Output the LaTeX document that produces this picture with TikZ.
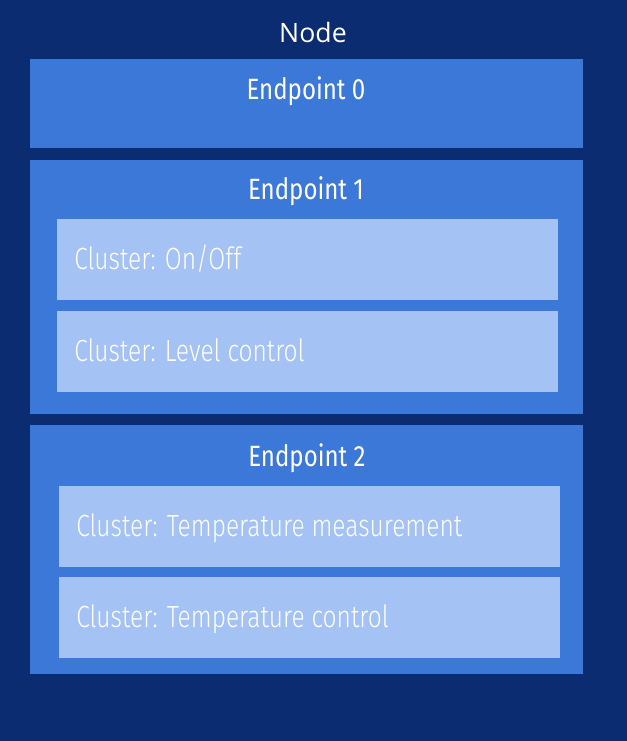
\documentclass[tikz,border=0pt]{standalone}
\usepackage{fontspec}
\setmainfont{Open Sans}
\newfontfamily\condfont{Fira Sans}[FakeStretch=0.82]
\newfontfamily\condlight{Fira Sans Light}[FakeStretch=0.8]
\definecolor{nodeblue}{HTML}{0B2C71}
\definecolor{epblue}{HTML}{3C78D8}
\definecolor{clblue}{HTML}{A4C2F4}
\tikzset{
  epbox/.style={fill=epblue, anchor=north west, inner sep=0pt, minimum width=553*0.75pt},
  clbox/.style={fill=clblue, anchor=north west, inner sep=0pt, minimum width=501*0.75pt, minimum height=81*0.75pt},
  eptitle/.style={text=white, anchor=base, inner sep=0pt, font=\condfont\fontsize{22}{24}\selectfont},
  cltext/.style={text=white, anchor=base west, inner sep=0pt, font=\condlight\fontsize{23}{26}\selectfont},
}
\begin{document}
\begin{tikzpicture}[x=0.75pt,y=-0.75pt]
  \fill[nodeblue] (0,0) rectangle (627,741);
  \node[text=white, anchor=base, inner sep=0pt, font=\fontsize{20}{24}\selectfont] (nodetitle) at (313,43) {Node};
  % endpoints
  \node[epbox, minimum height=89*0.75pt] (ep0) at (30,59) {};
  \node[epbox, minimum height=254*0.75pt] (ep1) at (30,160) {};
  \node[epbox, minimum height=249*0.75pt] (ep2) at (30,425) {};
  \node[eptitle] (ep0title) at (306,100) {Endpoint 0};
  \node[eptitle] (ep1title) at (306,200) {Endpoint 1};
  \node[eptitle] (ep2title) at (307,466) {Endpoint 2};
  % clusters
  \node[clbox] (onoff) at (57,219) {};
  \node[clbox] (level) at (57,311) {};
  \node[clbox] (tmeas) at (59,486) {};
  \node[clbox] (tctrl) at (59,577) {};
  \node[cltext] (onofftext) at (74,269) {Cluster: On/Off};
  \node[cltext] (leveltext) at (74,361) {Cluster: Level control};
  \node[cltext] (tmeastext) at (76,536) {Cluster: Temperature measurement};
  \node[cltext] (tctrltext) at (76,627) {Cluster: Temperature control};
\end{tikzpicture}
\end{document}
